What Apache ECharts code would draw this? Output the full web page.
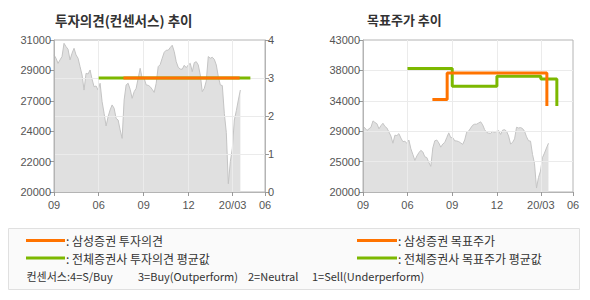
<!DOCTYPE html>
<html><head><meta charset="utf-8">
<script src="https://cdn.jsdelivr.net/npm/echarts@6/dist/echarts.min.js"></script>
<style>html,body{margin:0;padding:0;background:#fff}#c{width:590px;height:300px}</style>
</head><body><div id="c"></div>
<script>
// x positions are in sample-index units (one price sample per step)
const xTickPos = [0, 22.3, 44.75, 67.15, 89.15, 105.3];
const xTickLabels = ['09', '06', '09', '12', '20/03', '06'];
const price = [
  29920, 29680, 29310, 29560, 29800, 30760, 30520, 30330, 29560, 30040,
  30400, 29920, 29680, 29070, 28470, 27380, 28590, 28540, 28830, 28160,
  27620, 27670, 27380, 27870, 26540, 25690, 24780, 25450, 25940, 26300,
  26060, 25330, 25210, 24490, 23880, 26660, 27750, 27870, 27430, 26780,
  27260, 27500, 28230, 28950, 28230, 28230, 27750, 27720, 27620, 27430,
  27210, 27870, 29070, 29220, 29680, 30110, 30260, 30260, 30450, 30620,
  30160, 29430, 29020, 28900, 28880, 29170, 29000, 29190, 29310, 28710,
  29360, 29430, 29190, 28470, 27260, 27500, 28040, 29800, 29680, 29750,
  29600, 29190, 28350, 27750, 27700, 25690, 24300, 20600, 22200, 23160,
  25210, 25890, 26660, 27380
];
const priceTicksL = [20000, 22200, 24400, 26600, 28800, 31000];
const priceTickLabelsL = ['20000', '22000', '24000', '27000', '29000', '31000'];
const priceTicksR = [20000, 24600, 29200, 33800, 38400, 43000];
const priceTickLabelsR = ['20000', '25000', '29000', '34000', '38000', '43000'];
const consSamsungX = [34.65, 92.65];
const consSamsung = [3, 3];
const consAvgX = [22.3, 98];
const consAvg = [3, 3];
const tpSamsungX = [34.8, 42.2, 92.2];
const tpSamsung = [34000, 38000, 33000];
const tpAvgX = [22.3, 44.75, 67.15, 89.15, 97.2];
const tpAvg = [38700, 36000, 37500, 37100, 33000];
const legendNames = ['삼성증권 투자의견', '전체증권사 투자의견 평균값', '삼성증권 목표주가', '전체증권사 목표주가 평균값'];
const noteParts = ['컨센서스:4=S/Buy', '3=Buy(Outperform)', '2=Neutral', '1=Sell(Underperform)'];

const ORANGE = '#ff7300', GREEN = '#7cb800';
const AXIS = '#b4b4b4', GRID = '#ebebeb', LBL = '#555';
const NUMFONT = 'Liberation Sans, Arial, sans-serif';
const KRFONT = 'Noto Sans CJK KR, sans-serif';

function lookup(vals, labels) {
  return function (v) {
    for (let i = 0; i < vals.length; i++) if (Math.abs(vals[i] - v) < 1e-6) return labels[i];
    return '';
  };
}
const pairs = (xs, ys) => xs.map((x, i) => [x, ys[i]]);
const priceData = price.map((v, i) => [i, v]);

function xAxis(gi) {
  return {
    gridIndex: gi, type: 'value', min: 0, max: xTickPos[xTickPos.length - 1], z: 1,
    axisLine: { show: true, lineStyle: { color: AXIS } },
    axisTick: { show: true, customValues: xTickPos, length: 4, lineStyle: { color: '#999' } },
    axisLabel: { customValues: xTickPos, formatter: lookup(xTickPos, xTickLabels), color: LBL,
      fontSize: 11, fontFamily: NUMFONT, margin: 7, showMinLabel: true, showMaxLabel: true },
    splitLine: { show: true, showMinLine: false, showMaxLine: false, lineStyle: { color: GRID } }
  };
}

// legend drawn as graphic marks: [lineLeft, lineRight, rowY, textLeft]
const legendSlots = [[26, 65, 240.5, 66], [26, 65, 258, 66], [357, 397, 240.5, 398], [357, 397, 258, 398]];
const legendColors = [ORANGE, GREEN, ORANGE, GREEN];
const noteX = [26.5, 138, 248, 312];
const legendGraphics = [];
legendNames.forEach((n, i) => {
  const s = legendSlots[i];
  legendGraphics.push({ type: 'line', z: 10, shape: { x1: s[0], y1: s[2], x2: s[1], y2: s[2] },
    style: { stroke: legendColors[i], lineWidth: 3 } });
  legendGraphics.push({ type: 'text', z: 10, x: s[3], y: s[2],
    style: { text: ': ' + n, fill: '#333', font: '12px Noto Sans CJK KR, sans-serif', verticalAlign: 'middle', align: 'left' } });
});
noteParts.forEach((t, i) => {
  legendGraphics.push({ type: 'text', z: 10, x: noteX[i], y: 276,
    style: { text: t, fill: '#333', font: '11px Noto Sans CJK KR, sans-serif', verticalAlign: 'middle', align: 'left' } });
});

const option = {
  animation: false,
  title: [
    { text: '투자의견(컨센서스) 추이', left: 55, top: 13, padding: 0,
      textStyle: { fontSize: 13.5, fontWeight: 'bold', color: '#333', fontFamily: KRFONT } },
    { text: '목표주가 추이', left: 367, top: 13, padding: 0,
      textStyle: { fontSize: 13, fontWeight: 'bold', color: '#333', fontFamily: KRFONT } }
  ],
  grid: [
    { left: 54, top: 40, width: 211, height: 152, show: true, borderColor: AXIS, borderWidth: 1, backgroundColor: 'transparent' },
    { left: 363, top: 40, width: 210, height: 152, show: true, borderColor: AXIS, borderWidth: 1, backgroundColor: 'transparent' }
  ],
  xAxis: [xAxis(0), xAxis(1)],
  yAxis: [
    { gridIndex: 0, type: 'value', position: 'left', min: 20000, max: 31000, z: 1,
      axisLine: { show: true, lineStyle: { color: AXIS } },
      axisTick: { show: true, customValues: priceTicksL, length: 4, lineStyle: { color: '#999' } },
      axisLabel: { customValues: priceTicksL, formatter: lookup(priceTicksL, priceTickLabelsL), color: LBL, fontSize: 11, fontFamily: NUMFONT, margin: 3 },
      splitLine: { show: false } },
    { gridIndex: 0, type: 'value', position: 'right', min: 0, max: 4, interval: 1, z: 1,
      axisLine: { show: true, lineStyle: { color: AXIS } },
      axisTick: { show: true, length: 4, lineStyle: { color: '#999' } },
      axisLabel: { color: LBL, fontSize: 11, fontFamily: NUMFONT, margin: 3 },
      splitLine: { show: true, showMinLine: false, showMaxLine: false, lineStyle: { color: GRID } } },
    { gridIndex: 1, type: 'value', position: 'left', min: 20000, max: 43000, z: 1,
      axisLine: { show: true, lineStyle: { color: AXIS } },
      axisTick: { show: true, customValues: priceTicksR, length: 4, lineStyle: { color: '#999' } },
      axisLabel: { customValues: priceTicksR, formatter: lookup(priceTicksR, priceTickLabelsR), color: LBL, fontSize: 11, fontFamily: NUMFONT, margin: 3 },
      splitLine: { show: true, showMinLine: false, showMaxLine: false, lineStyle: { color: GRID } } }
  ],
  graphic: [
    { type: 'rect', z: -10, shape: { x: 8.5, y: 228.5, width: 571, height: 61 },
      style: { fill: '#fafafa', stroke: '#e0e0e0', lineWidth: 1 } }
  ].concat(legendGraphics),
  series: [
    { type: 'line', xAxisIndex: 0, yAxisIndex: 0, data: priceData, showSymbol: false, z: 0, silent: true,
      lineStyle: { color: '#c4c4c4', width: 1 }, areaStyle: { color: '#e0e0e0', origin: 'start', opacity: 1 } },
    { type: 'line', xAxisIndex: 1, yAxisIndex: 2, data: priceData, showSymbol: false, z: 0, silent: true,
      lineStyle: { color: '#c4c4c4', width: 1 }, areaStyle: { color: '#e0e0e0', origin: 'start', opacity: 1 } },
    { name: legendNames[1], type: 'line', xAxisIndex: 0, yAxisIndex: 1, data: pairs(consAvgX, consAvg),
      showSymbol: false, color: GREEN, lineStyle: { color: GREEN, width: 3 }, z: 3 },
    { name: legendNames[0], type: 'line', xAxisIndex: 0, yAxisIndex: 1, data: pairs(consSamsungX, consSamsung),
      showSymbol: false, color: ORANGE, lineStyle: { color: ORANGE, width: 3 }, z: 4 },
    { name: legendNames[3], type: 'line', step: 'end', xAxisIndex: 1, yAxisIndex: 2, data: pairs(tpAvgX, tpAvg),
      showSymbol: false, color: GREEN, lineStyle: { color: GREEN, width: 3 }, z: 3 },
    { name: legendNames[2], type: 'line', step: 'end', xAxisIndex: 1, yAxisIndex: 2, data: pairs(tpSamsungX, tpSamsung),
      showSymbol: false, color: ORANGE, lineStyle: { color: ORANGE, width: 3 }, z: 4 }
  ]
};
const chart = echarts.init(document.getElementById('c'), null, { renderer: 'svg' });
chart.setOption(option);
</script>
</body></html>
